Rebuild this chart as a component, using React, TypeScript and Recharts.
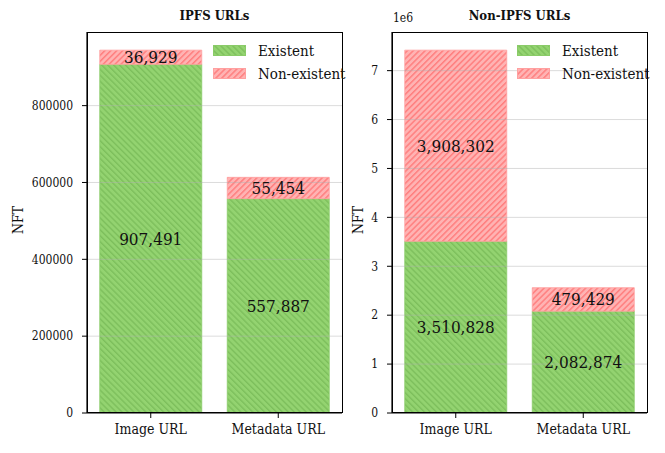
import React from "react";
import {
  BarChart, Bar, XAxis, YAxis, ReferenceLine, LabelList,
} from "recharts";

const categories = ["Image URL", "Metadata URL"];
const ipfsExistent = [907491, 557887];
const ipfsMissing = [36929, 55454];
const otherExistent = [3510828, 2082874];
const otherMissing = [3908302, 479429];
const ipfsTicks = [0, 200000, 400000, 600000, 800000];
const otherTicks = [0, 1e6, 2e6, 3e6, 4e6, 5e6, 6e6, 7e6];

const FONT = "'DejaVu Serif Condensed', 'DejaVu Serif', serif";

const ipfsData = categories.map((name, i) => ({
  name, existent: ipfsExistent[i], missing: ipfsMissing[i],
}));
const otherData = categories.map((name, i) => ({
  name, existent: otherExistent[i], missing: otherMissing[i],
}));

const fmt = (v: any) => Number(v).toLocaleString("en-US");

function Patterns() {
  return (
    <svg width={0} height={0} style={{ position: "absolute" }}>
      <defs>
        <pattern id="hatchGreen" patternUnits="userSpaceOnUse" width={4.2} height={4.2}
          patternTransform="rotate(-45)">
          <rect width={4.2} height={4.2} fill="#93d370" />
          <rect width={1.4} height={4.2} fill="#7dbf5c" />
        </pattern>
        <pattern id="hatchRed" patternUnits="userSpaceOnUse" width={4.2} height={4.2}
          patternTransform="rotate(45)">
          <rect width={4.2} height={4.2} fill="#ffb3b3" />
          <rect width={1.5} height={4.2} fill="#ff7f7f" />
        </pattern>
      </defs>
    </svg>
  );
}

function LegendBox({ left, top }: { left: number; top: number }) {
  const row = (fill: string, stroke: string, label: string) => (
    <div style={{ display: "flex", alignItems: "center", height: 23 }}>
      <svg width={33} height={11} style={{ marginRight: 12 }}>
        <rect x={0.5} y={0.5} width={32} height={10} fill={fill} stroke={stroke} />
      </svg>
      <span style={{ fontFamily: FONT, fontStretch: "condensed", fontSize: 15, color: "#111" }}>{label}</span>
    </div>
  );
  return (
    <div style={{ position: "absolute", left, top }}>
      {row("url(#hatchGreen)", "#8acb68", "Existent")}
      {row("url(#hatchRed)", "#ffa0a0", "Non-existent")}
    </div>
  );
}

function Panel({ data, ticks, max, yWidth, width, right, tickFmt }: any) {
  const tickStyle = { fontFamily: FONT, fontStretch: "condensed", fontSize: 12, fill: "#111" };
  return (
    <BarChart width={width} height={453} data={data}
      margin={{ top: 32, right, bottom: 0, left: 0 }} barCategoryGap="10%">
      <XAxis dataKey="name" height={40} tickLine={{ stroke: "#000" }} tickSize={5} interval={0}
        axisLine={{ stroke: "#000", strokeWidth: 1.2 }}
        tick={{ ...tickStyle, fontSize: 14, dy: 4 }} />
      <YAxis width={yWidth} domain={[0, max]} ticks={ticks} tickFormatter={tickFmt}
        tickSize={5} tickLine={{ stroke: "#000" }} axisLine={{ stroke: "#000", strokeWidth: 1.2 }}
        tick={{ ...tickStyle, dx: -7 }} allowDataOverflow />
      {ticks.slice(1).map((t: number) => (
        <ReferenceLine key={t} y={t} stroke="#b0b0b0" strokeOpacity={0.45} strokeWidth={1} />
      ))}
      <Bar dataKey="existent" stackId="a" fill="url(#hatchGreen)" stroke="#8acb68"
        strokeWidth={0.8} isAnimationActive={false}>
        <LabelList dataKey="existent" position="center" formatter={fmt}
          style={{ fontFamily: FONT, fontStretch: "condensed", fontSize: 17, fill: "#111" }} />
      </Bar>
      <Bar dataKey="missing" stackId="a" fill="url(#hatchRed)" stroke="#ffa0a0"
        strokeWidth={0.8} isAnimationActive={false}>
        <LabelList dataKey="missing" position="center" formatter={fmt}
          style={{ fontFamily: FONT, fontStretch: "condensed", fontSize: 17, fill: "#111" }} />
      </Bar>
    </BarChart>
  );
}

const textStyle: React.CSSProperties = {
  position: "absolute", fontFamily: FONT, fontStretch: "condensed", color: "#111",
  whiteSpace: "nowrap",
};

const frame = (left: number, width: number): React.CSSProperties => ({
  position: "absolute", left, top: 32, width, height: 381, boxSizing: "border-box",
  border: "1.2px solid #000", pointerEvents: "none",
});

export default function App() {
  return (
    <div style={{ position: "fixed", left: 0, top: 0, width: 665, height: 453, background: "#fff" }}>
      <Patterns />
      <div style={{ position: "absolute", left: 0, top: 0 }}>
        <Panel data={ipfsData} ticks={ipfsTicks} max={991641} yWidth={87} width={350}
          right={8} tickFmt={(v: number) => String(v)} />
      </div>
      <div style={{ position: "absolute", left: 350, top: 0 }}>
        <Panel data={otherData} ticks={otherTicks} max={7790087} yWidth={42} width={315}
          right={18} tickFmt={(v: number) => String(v / 1e6)} />
      </div>
      <div style={frame(87, 256)} />
      <div style={frame(392, 256)} />
      <LegendBox left={213} top={39} />
      <LegendBox left={517} top={39} />
      <div style={{ ...textStyle, left: 87, width: 255, top: 8, textAlign: "center", fontWeight: "bold", fontSize: 13 }}>
        IPFS URLs
      </div>
      <div style={{ ...textStyle, left: 392, width: 255, top: 8, textAlign: "center", fontWeight: "bold", fontSize: 13 }}>
        Non-IPFS URLs
      </div>
      <div style={{ ...textStyle, left: 393, top: 11, fontSize: 12 }}>1e6</div>
      <div style={{ ...textStyle, left: 4, top: 212, fontSize: 14, transform: "rotate(-90deg)" }}>NFT</div>
      <div style={{ ...textStyle, left: 344, top: 212, fontSize: 14, transform: "rotate(-90deg)" }}>NFT</div>
    </div>
  );
}
